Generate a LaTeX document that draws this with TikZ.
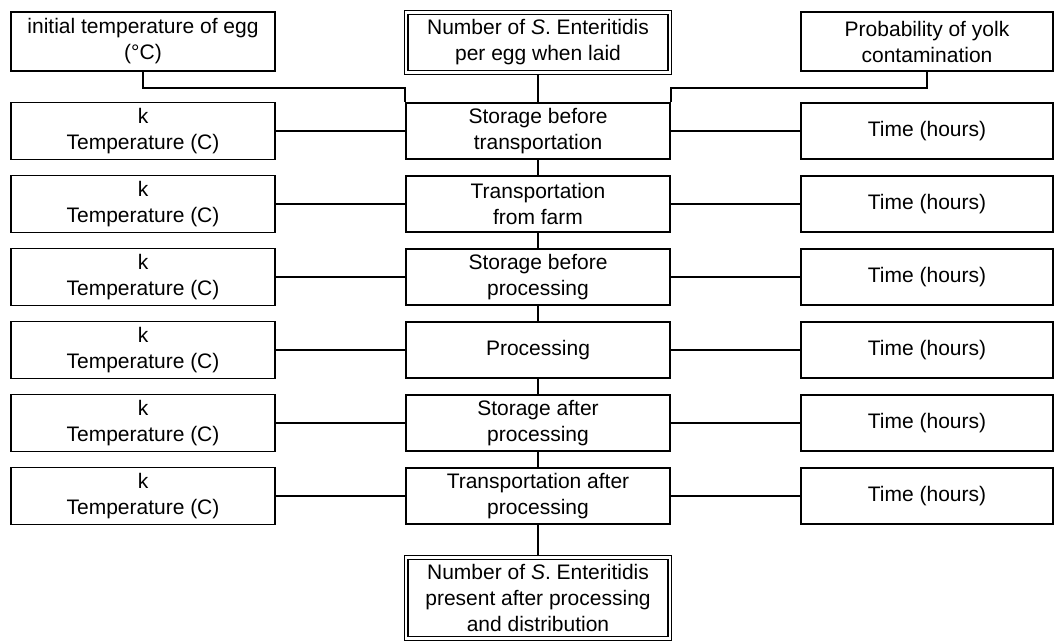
\documentclass[tikz,border=0pt]{standalone}
\usepackage{fontspec}
\setmainfont{Liberation Sans}
\usetikzlibrary{positioning}

\tikzset{
  sidebox/.style={draw, line width=1.6pt, minimum width=264pt, minimum height=57pt, align=center, inner sep=2pt},
  stagebox/.style={draw, line width=1.6pt, minimum width=264pt, minimum height=56pt, align=center, inner sep=2pt},
  timebox/.style={draw, line width=1.6pt, minimum width=252pt, minimum height=56pt, align=center, inner sep=2pt},
  countbox/.style={draw, double, double distance=2.2pt, line width=1.2pt, outer sep=2.3pt, minimum width=263.4pt, align=center, inner sep=2pt},
  conn/.style={line width=1.6pt}
}

\begin{document}
\begin{tikzpicture}[x=1pt, y=1pt, font=\fontsize{21}{26}\selectfont]
\useasboundingbox (0,0) rectangle (1054,-643);
% inputs at the top
\node[sidebox, minimum height=59pt] (temp0) at (143,-41.5) {initial temperature of egg\\(°C)};
\node[countbox, minimum height=60pt] (nse0) at (538,-42.5) {Number of \textit{S}. Enteritidis\\per egg when laid};
\node[timebox, minimum height=59pt] (yolk) at (927,-41.5) {Probability of yolk\\contamination};
% stages
\node[sidebox] (k1) at (143,-131) {k\\Temperature (C)};
\node[stagebox] (s1) at (538,-131) {Storage before\\transportation};
\node[timebox] (t1) at (927,-131) {Time (hours)};
\node[sidebox] (k2) at (143,-204) {k\\Temperature (C)};
\node[stagebox] (s2) at (538,-204) {Transportation\\from farm};
\node[timebox] (t2) at (927,-204) {Time (hours)};
\node[sidebox] (k3) at (143,-277) {k\\Temperature (C)};
\node[stagebox] (s3) at (538,-277) {Storage before\\processing};
\node[timebox] (t3) at (927,-277) {Time (hours)};
\node[sidebox] (k4) at (143,-350) {k\\Temperature (C)};
\node[stagebox] (s4) at (538,-350) {Processing};
\node[timebox] (t4) at (927,-350) {Time (hours)};
\node[sidebox] (k5) at (143,-423) {k\\Temperature (C)};
\node[stagebox] (s5) at (538,-423) {Storage after\\processing};
\node[timebox] (t5) at (927,-423) {Time (hours)};
\node[sidebox] (k6) at (143,-496) {k\\Temperature (C)};
\node[stagebox] (s6) at (538,-496) {Transportation after\\processing};
\node[timebox] (t6) at (927,-496) {Time (hours)};
% output
\node[countbox, minimum height=81pt] (nse1) at (538,-598) {Number of \textit{S}. Enteritidis\\present after processing\\and distribution};
% links
\draw[conn] (temp0.south) -- ++(0,-16) -| (s1.north west);
\draw[conn] (yolk.south) -- ++(0,-16) -| (s1.north east);
\draw[conn] (nse0.south) -- (s1.north);
\draw[conn] (s1.south) -- (s2.north);
\draw[conn] (s2.south) -- (s3.north);
\draw[conn] (s3.south) -- (s4.north);
\draw[conn] (s4.south) -- (s5.north);
\draw[conn] (s5.south) -- (s6.north);
\draw[conn] (s6.south) -- (nse1.north);
\draw[conn] (k1.east) -- (s1.west);
\draw[conn] (k2.east) -- (s2.west);
\draw[conn] (k3.east) -- (s3.west);
\draw[conn] (k4.east) -- (s4.west);
\draw[conn] (k5.east) -- (s5.west);
\draw[conn] (k6.east) -- (s6.west);
\draw[conn] (s1.east) -- (t1.west);
\draw[conn] (s2.east) -- (t2.west);
\draw[conn] (s3.east) -- (t3.west);
\draw[conn] (s4.east) -- (t4.west);
\draw[conn] (s5.east) -- (t5.west);
\draw[conn] (s6.east) -- (t6.west);
\end{tikzpicture}
\end{document}
